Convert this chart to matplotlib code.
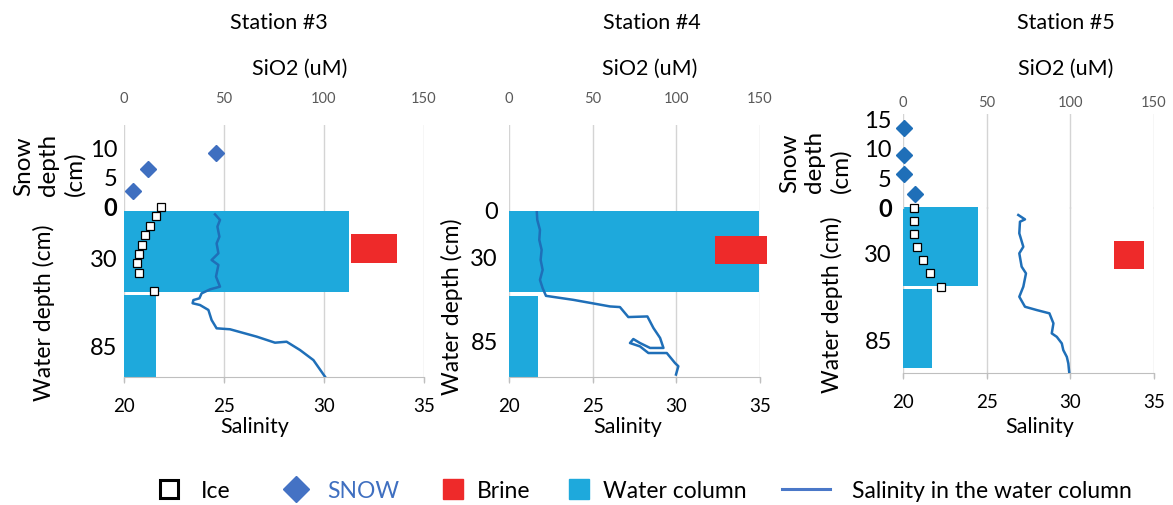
import matplotlib
matplotlib.use("Agg")
import matplotlib.pyplot as plt
from matplotlib.lines import Line2D

plt.rcParams["font.family"] = ["Lato", "DejaVu Sans"]

W, H = 1173, 505

# ---------------- data ----------------
# SiO2 in uM (top axis), salinity (bottom axis), depths in cm
stations = ["Station #3", "Station #4", "Station #5"]
sio2_ticks = [0, 50, 100, 150]
sal_ticks = [20, 25, 30, 35]
water_ticks = [0, 30, 85]

# Station #3
s3_water_sio2 = [112.5, 16.0]
s3_water_top = [0.0, 52.6]
s3_water_bot = [50.7, 104.0]
s3_brine_sio2 = [113.5, 136.5]
s3_brine_depth = [14.4, 32.6]
s3_ice_sio2 = [18.5, 16.0, 13.0, 10.5, 9.0, 7.5, 6.5, 7.5, 15.0]
s3_ice_depth = [-2.5, 3.1, 9.4, 15.0, 21.3, 26.9, 32.6, 38.8, 50.1]
s3_snow_sio2 = [4.5, 12.0, 46.0]
s3_snow_depth = [2.6, 6.4, 9.1]
s3_sal = [24.55, 24.8, 24.67, 24.77, 24.63, 24.72, 24.38, 24.72, 24.6, 24.8,
          24.3, 23.88, 23.77, 23.47, 23.43, 23.8, 24.22, 24.38, 24.63, 25.3,
          26.63, 27.55, 28.13, 28.8, 29.47, 30.05]
s3_sal_depth = [2.1, 5.6, 9.8, 16.1, 20.3, 26.5, 30.7, 33.8, 41.1, 47.4,
                49.1, 51.6, 54.7, 55.8, 57.8, 58.9, 62.0, 68.3, 73.5, 74.1,
                78.7, 82.5, 81.9, 87.1, 93.4, 103.8]

# Station #4
s4_water_sio2 = [149.4, 17.3]
s4_water_top = [0.0, 55.2]
s4_water_bot = [52.6, 107.7]
s4_brine_sio2 = [123.1, 154.2]
s4_brine_depth = [16.2, 34.4]
s4_sal = [21.66, 21.69, 21.85, 21.81, 21.95, 21.89, 22.01, 21.85, 22.01, 22.21,
          23.84, 26.04, 26.63, 27.13, 28.27, 28.63, 29.03, 29.23, 28.43, 27.83,
          27.43, 27.23, 27.83, 28.33, 29.43, 29.92, 30.12, 29.98]
s4_sal_depth = [0.4, 5.8, 12.3, 18.8, 25.3, 31.8, 38.3, 44.8, 50.2, 55.2,
                57.8, 62.1, 62.5, 69.0, 68.6, 76.1, 82.6, 89.1, 89.1, 85.9,
                83.3, 85.9, 88.1, 92.4, 92.4, 98.9, 101.0, 106.4]

# Station #5
s5_water_sio2 = [44.8, 17.3]
s5_water_top = [0.0, 52.4]
s5_water_bot = [50.5, 102.9]
s5_brine_sio2 = [126.1, 144.1]
s5_brine_depth = [21.7, 39.6]
s5_ice_sio2 = [6.6, 6.6, 6.6, 8.4, 12.0, 16.0, 22.7]
s5_ice_depth = [0.6, 9.0, 17.3, 25.6, 33.9, 42.2, 51.1]
s5_snow_sio2 = [0.5, 0.5, 0.5, 7.4]
s5_snow_depth = [13.5, 8.9, 5.7, 2.4]
s5_sal = [26.89, 27.29, 26.99, 26.95, 27.19, 26.95, 27.09, 27.35, 27.19, 26.95,
          27.29, 27.99, 28.75, 28.99, 28.89, 29.19, 29.49, 29.58, 29.79, 29.88,
          29.94]
s5_sal_depth = [5.1, 7.9, 9.4, 16.8, 25.4, 29.6, 38.1, 42.4, 50.9, 57.3,
                63.7, 65.8, 67.9, 74.3, 80.7, 82.9, 87.1, 91.4, 95.7, 99.9,
                106.3]

# ---------------- styles ----------------
WATER = "#1ea9dc"
BRINE = "#ee2a2a"
LINE = "#1f6fb8"
GRID = "#d4d4d4"
SNOW_TXT = "#3f6fc0"


def px(x0, y0, x1, y1):
    return [x0 / W, 1 - y1 / H, (x1 - x0) / W, (y1 - y0) / H]


panels = [
    dict(x0=124, x1=424, top=125, split=211, wtop=211, bottom=377, snow_lim=(-0.86, 13.97),
         water_max=104, snow_ticks=[0, 5, 10], ypad=5, toppad=14,
         title_x=279, sio2_x=300, sal_x=255, water_lab=(44, 313), snow_lab=(49, 196),
         water=(s3_water_sio2, s3_water_top, s3_water_bot),
         brine=(s3_brine_sio2, s3_brine_depth),
         ice=(s3_ice_sio2, s3_ice_depth),
         snow=(s3_snow_sio2, s3_snow_depth, "#3f6fc0"),
         sal=(s3_sal, s3_sal_depth)),
    dict(x0=509, x1=760, top=125, split=211, wtop=211, bottom=377, snow_lim=(-0.86, 13.97),
         water_max=108, snow_ticks=[], ypad=8, toppad=14,
         title_x=652, sio2_x=650, sal_x=628, water_lab=(452, 307), snow_lab=None,
         water=(s4_water_sio2, s4_water_top, s4_water_bot),
         brine=(s4_brine_sio2, s4_brine_depth),
         ice=None, snow=None,
         sal=(s4_sal, s4_sal_depth)),
    dict(x0=903, x1=1154, top=114, split=209, wtop=207, bottom=373, snow_lim=(-0.17, 15.9),
         water_max=106, snow_ticks=[0, 5, 10, 15], ypad=8, toppad=3,
         title_x=1066, sio2_x=1066, sal_x=1040, water_lab=(832, 305), snow_lab=(815, 193),
         water=(s5_water_sio2, s5_water_top, s5_water_bot),
         brine=(s5_brine_sio2, s5_brine_depth),
         ice=(s5_ice_sio2, s5_ice_depth),
         snow=(s5_snow_sio2, s5_snow_depth, "#1f6fb8"),
         sal=(s5_sal, s5_sal_depth)),
]

fig = plt.figure(figsize=(W / 100, H / 100), dpi=100)

for name, p in zip(stations, panels):
    has_snow = len(p["snow_ticks"]) > 0
    # water column axes (SiO2 x, depth y)
    ax = fig.add_axes(px(p["x0"], p["wtop"], p["x1"], p["bottom"]))
    ax.set_xlim(0, 150)
    ax.set_ylim(p["water_max"], 0)
    ax.set_xticks(sio2_ticks)
    ax.tick_params(axis="x", which="both", bottom=False, top=False,
                   labelbottom=False, labeltop=False)
    ax.grid(axis="x", color=GRID, lw=1)
    ax.set_axisbelow(True)
    for s in ["top", "left", "right"]:
        ax.spines[s].set_visible(False)
    ax.spines["bottom"].set_color("#bfbfbf")
    ax.set_yticks(water_ticks)
    # the water "0" and snow "0" share one spot: the snow axis draws it
    ax.set_yticklabels(["" if has_snow else "0", "30", "85"])
    ax.tick_params(axis="y", length=0, labelsize=17, pad=p["ypad"])

    ws, wt, wb = p["water"]
    ax.barh([(t + b) / 2 for t, b in zip(wt, wb)], ws,
            height=[b - t for t, b in zip(wt, wb)], left=0, color=WATER, zorder=2)
    bs, bd = p["brine"]
    ax.barh((bd[0] + bd[1]) / 2, bs[1] - bs[0], height=bd[1] - bd[0],
            left=bs[0], color=BRINE, zorder=2, clip_on=False)
    if p["ice"] is not None:
        ax.plot(p["ice"][0], p["ice"][1], ls="none", marker="s", ms=5.8,
                mfc="white", mec="black", mew=0.9, zorder=4, clip_on=False)

    # salinity on a twin x axis at the bottom
    axs = ax.twiny()
    axs.set_xlim(20, 35)
    axs.set_xticks(sal_ticks)
    axs.xaxis.tick_bottom()
    axs.tick_params(axis="x", length=4, color="#bfbfbf", labelsize=13.5, pad=11)
    for s in ["top", "left", "right", "bottom"]:
        axs.spines[s].set_visible(False)
    axs.plot(p["sal"][0], p["sal"][1], color=LINE, lw=1.8, zorder=3)

    # snow axes above
    axn = fig.add_axes(px(p["x0"], p["top"], p["x1"], p["split"]))
    axn.set_xlim(0, 150)
    axn.set_ylim(*p["snow_lim"])
    axn.patch.set_alpha(0)
    for s in axn.spines.values():
        s.set_visible(False)
    axn.set_xticks(sio2_ticks)
    axn.xaxis.tick_top()
    axn.tick_params(axis="x", length=0, labelsize=10.5, labelcolor="#595959",
                    pad=p["toppad"])
    axn.grid(axis="x", color=GRID, lw=1)
    axn.set_yticks(p["snow_ticks"])
    axn.tick_params(axis="y", length=0, labelsize=17, pad=p["ypad"])
    if has_snow:
        axn.get_yticklabels()[0].set_fontweight("bold")
    if p["snow"] is not None:
        axn.plot(p["snow"][0], p["snow"][1], ls="none", marker="D", ms=8.5,
                 color=p["snow"][2], zorder=4, clip_on=False)

    # texts
    fig.text(p["title_x"] / W, 1 - 23 / H, name, ha="center", va="center", fontsize=15.5)
    fig.text(p["sio2_x"] / W, 1 - 69 / H, "SiO2 (uM)", ha="center", va="center", fontsize=15.5)
    fig.text(p["sal_x"] / W, 1 - 427 / H, "Salinity", ha="center", va="center", fontsize=15.5)
    wx, wy = p["water_lab"]
    fig.text(wx / W, 1 - wy / H, "Water depth (cm)", rotation=90, ha="center",
             va="center", fontsize=16.5)
    if p["snow_lab"] is not None:
        sx, sy = p["snow_lab"]
        fig.text(sx / W, 1 - sy / H, "Snow\ndepth\n(cm)", rotation=90, ha="center",
                 va="bottom", multialignment="left", fontsize=17.5, linespacing=1.25)

# ---------------- legend ----------------
# (box left px, handle, label, text colour, handlelength, handletextpad)
legend_items = [
    (158, Line2D([], [], ls="none", marker="s", ms=13.5, mfc="white", mec="black", mew=2.2),
     "Ice", "black", 0.96, 0.92),
    (282, Line2D([], [], ls="none", marker="D", ms=13.5, color="#4472c4"),
     "SNOW", SNOW_TXT, 1.18, 0.79),
    (442, Line2D([], [], ls="none", marker="s", ms=15, color=BRINE),
     "Brine", "black", 0.92, 0.61),
    (568, Line2D([], [], ls="none", marker="s", ms=15, color=WATER),
     "Water column", "black", 0.92, 0.61),
    (782, Line2D([], [], color="#4a78c8", lw=2.2),
     "Salinity in the water column", "black", 2.1, 0.96),
]
for x, h, lab, col, hl, hp in legend_items:
    leg = fig.legend(handles=[h], labels=[lab], loc="center left",
                     bbox_to_anchor=(x / W, 1 - 491 / H), frameon=False,
                     fontsize=16.5, borderpad=0, borderaxespad=0,
                     handlelength=hl, handletextpad=hp)
    leg.get_texts()[0].set_color(col)

fig.savefig("out.png", dpi=100)
